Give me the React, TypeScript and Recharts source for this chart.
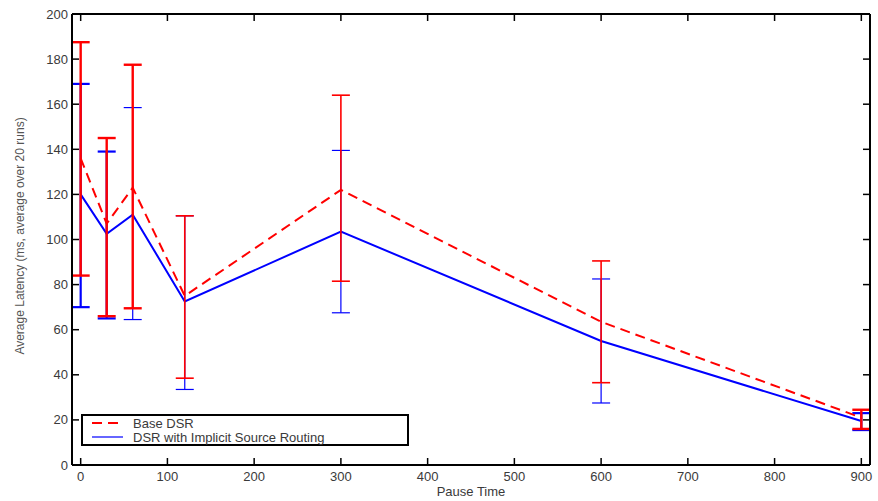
import React from 'react';
import { ComposedChart, Line, XAxis, YAxis, ErrorBar } from 'recharts';

// ── data ─────────────────────────────────────────────────────
const pauseTimes = [0, 30, 60, 120, 300, 600, 900];

const baseMean = [136, 107, 123, 75, 122, 63.5, 21];
const baseLow = [84, 66, 69.5, 38.5, 81.5, 36.5, 16];
const baseHigh = [187.5, 145, 177.5, 110.5, 164, 90.5, 24.5];

const isrMean = [120, 102.5, 111, 72.5, 103.5, 55, 19.5];
const isrLow = [70, 65, 64.5, 33.5, 67.5, 27.5, 15.5];
const isrHigh = [169, 139, 158.5, 110.5, 139.5, 82.5, 23];

// which error bars are drawn with the heavier pen
const baseThick = [true, true, true, false, false, false, true];
const isrThick = [true, true, false, false, false, false, true];

const xTicks = [0, 100, 200, 300, 400, 500, 600, 700, 800, 900];
const yTicks = [0, 20, 40, 60, 80, 100, 120, 140, 160, 180, 200];

const RED = '#ff0000';
const BLUE = '#0000ff';
const FONT = '"Liberation Sans", Arial, Helvetica, sans-serif';
const TICK_COLOR = '#3a3a3a';

const err = (mean: number, lo: number, hi: number) => [mean - lo, hi - mean];

const rows = pauseTimes.map((t, i) => ({
  t,
  base: baseMean[i],
  isr: isrMean[i],
  baseThick: baseThick[i] ? err(baseMean[i], baseLow[i], baseHigh[i]) : undefined,
  baseThin: !baseThick[i] ? err(baseMean[i], baseLow[i], baseHigh[i]) : undefined,
  isrThick: isrThick[i] ? err(isrMean[i], isrLow[i], isrHigh[i]) : undefined,
  isrThin: !isrThick[i] ? err(isrMean[i], isrLow[i], isrHigh[i]) : undefined,
}));

// ── MATLAB-style inward ticks ────────────────────────────────
const TL = 7;

function BottomTick({ x, y, payload }: any) {
  return (
    <g>
      <line x1={x} y1={y} x2={x} y2={y - TL} stroke="#000" strokeWidth={1.5} />
      <text x={x} y={y + 16} textAnchor="middle" fontSize={13} fontFamily={FONT} fill={TICK_COLOR}>
        {payload.value}
      </text>
    </g>
  );
}

function TopTick({ x, y }: any) {
  return <line x1={x} y1={y} x2={x} y2={y + TL} stroke="#000" strokeWidth={1.5} />;
}

function LeftTick({ x, y, payload }: any) {
  return (
    <g>
      <line x1={x} y1={y} x2={x + TL} y2={y} stroke="#000" strokeWidth={1.5} />
      <text x={x - 4} y={y + 4.5} textAnchor="end" fontSize={13} fontFamily={FONT} fill={TICK_COLOR}>
        {payload.value}
      </text>
    </g>
  );
}

function RightTick({ x, y }: any) {
  return <line x1={x} y1={y} x2={x - TL} y2={y} stroke="#000" strokeWidth={1.5} />;
}

const axisLine = { stroke: '#000', strokeWidth: 2 };

export default function App() {
  return (
    <div style={{ position: 'absolute', left: 0, top: 0, width: 878, height: 501, background: '#fff' }}>
      <ComposedChart
        width={878}
        height={501}
        data={rows}
        margin={{ top: 13, right: 7, bottom: 6, left: 32 }}
      >
        <XAxis
          xAxisId="b"
          dataKey="t"
          type="number"
          domain={[-10, 910]}
          ticks={xTicks}
          interval={0}
          height={30}
          tickSize={0}
          tickMargin={0}
          tickLine={false}
          axisLine={axisLine}
          tick={<BottomTick />}
          allowDataOverflow
        />
        <XAxis
          xAxisId="t"
          orientation="top"
          dataKey="t"
          type="number"
          domain={[-10, 910]}
          ticks={xTicks}
          interval={0}
          height={1}
          tickSize={0}
          tickMargin={0}
          tickLine={false}
          axisLine={axisLine}
          tick={<TopTick />}
          allowDataOverflow
        />
        <YAxis
          yAxisId="l"
          type="number"
          domain={[0, 200]}
          ticks={yTicks}
          interval={0}
          width={40}
          tickSize={0}
          tickMargin={0}
          tickLine={false}
          axisLine={axisLine}
          tick={<LeftTick />}
          allowDataOverflow
        />
        <YAxis
          yAxisId="r"
          orientation="right"
          type="number"
          domain={[0, 200]}
          ticks={yTicks}
          interval={0}
          width={1}
          tickSize={0}
          tickMargin={0}
          tickLine={false}
          axisLine={axisLine}
          tick={<RightTick />}
          allowDataOverflow
        />

        <Line
          xAxisId="b"
          yAxisId="l"
          dataKey="isr"
          name="DSR with Implicit Source Routing"
          stroke={BLUE}
          strokeWidth={2}
          dot={false}
          isAnimationActive={false}
        >
          <ErrorBar dataKey="isrThick" width={9} stroke={BLUE} strokeWidth={2.2} direction="y" />
          <ErrorBar dataKey="isrThin" width={9} stroke={BLUE} strokeWidth={1.2} direction="y" />
        </Line>
        <Line
          xAxisId="b"
          yAxisId="l"
          dataKey="base"
          name="Base DSR"
          stroke={RED}
          strokeWidth={2}
          strokeDasharray="10 6"
          dot={false}
          isAnimationActive={false}
        >
          <ErrorBar dataKey="baseThick" width={9} stroke={RED} strokeWidth={2.4} direction="y" />
          <ErrorBar dataKey="baseThin" width={9} stroke={RED} strokeWidth={1.6} direction="y" />
        </Line>
      </ComposedChart>

      {/* axis titles */}
      <svg width={878} height={501} style={{ position: 'absolute', left: 0, top: 0, pointerEvents: 'none' }}>
        <text
          x={0}
          y={0}
          transform="translate(24 236) rotate(-90)"
          textAnchor="middle"
          fontSize={12}
          fontFamily={FONT}
          fill="#555"
        >
          Average Latency (ms, average over 20 runs)
        </text>
        <text x={471} y={496} textAnchor="middle" fontSize={13} fontFamily={FONT} fill={TICK_COLOR}>
          Pause Time
        </text>

        {/* legend */}
        <rect x={82} y={415} width={326} height={30} fill="#fff" stroke="#000" strokeWidth={2} />
        <line x1={92} y1={423} x2={123} y2={423} stroke={RED} strokeWidth={2} strokeDasharray="10 6" />
        <text x={133} y={427.5} fontSize={13} fontFamily={FONT} fill={TICK_COLOR}>
          Base DSR
        </text>
        <line x1={92} y1={437} x2={123} y2={437} stroke={BLUE} strokeWidth={1.2} />
        <text x={133} y={441.5} fontSize={13} fontFamily={FONT} fill={TICK_COLOR}>
          DSR with Implicit Source Routing
        </text>
      </svg>
    </div>
  );
}
